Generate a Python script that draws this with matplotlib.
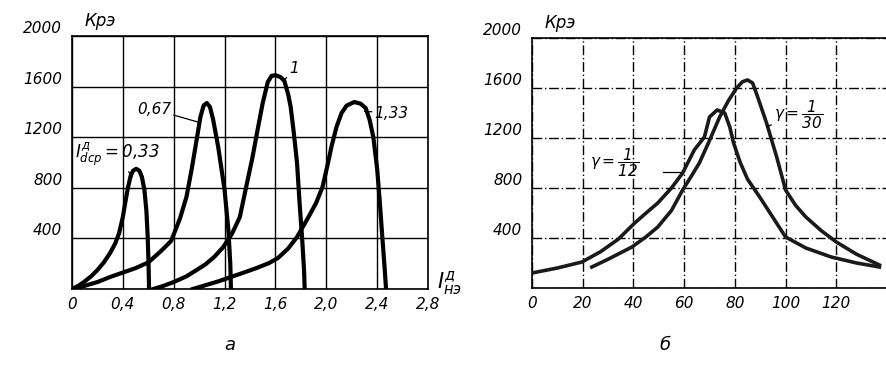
import numpy as np
import matplotlib.pyplot as plt

plt.rcParams['font.family'] = 'DejaVu Sans'
plt.rcParams['font.style'] = 'italic'
plt.rcParams['mathtext.fontset'] = 'custom'
plt.rcParams['mathtext.rm'] = 'DejaVu Sans:italic'
plt.rcParams['mathtext.it'] = 'DejaVu Sans:italic'

# --- данные, рисунок а: K_рэ от I_нэ при разных I_dср
c033_x = [0.00, 0.05, 0.10, 0.15, 0.20, 0.25, 0.30, 0.34, 0.37, 0.40, 0.42, 0.44, 0.46, 0.48,
          0.505, 0.53, 0.55, 0.57, 0.585, 0.595, 0.602, 0.606]
c033_y = [0, 25, 60, 100, 150, 210, 285, 360, 440, 570, 690, 800, 890, 935,
          950, 935, 885, 780, 620, 420, 200, 0]

c067_x = [0.00, 0.10, 0.20, 0.30, 0.40, 0.50, 0.60, 0.70, 0.78, 0.85, 0.90, 0.94, 0.98, 1.01,
          1.035, 1.06, 1.085, 1.11, 1.15, 1.18, 1.20, 1.23, 1.245, 1.25]
c067_y = [0, 25, 55, 95, 130, 165, 210, 300, 380, 560, 727, 940, 1178, 1360,
          1450, 1470, 1440, 1340, 1122, 920, 783, 466, 200, 0]

c100_x = [0.64, 0.72, 0.80, 0.90, 0.98, 1.05, 1.12, 1.19, 1.26, 1.32, 1.36, 1.42, 1.46, 1.50,
          1.54, 1.57, 1.60, 1.64, 1.67, 1.70, 1.72, 1.745, 1.77, 1.79, 1.81, 1.825, 1.83]
c100_y = [0, 25, 55, 100, 150, 195, 255, 332, 440, 569, 760, 1043, 1260, 1470,
          1636, 1685, 1690, 1675, 1645, 1540, 1439, 1230, 996, 680, 400, 150, 0]

c133_x = [0.95, 1.05, 1.15, 1.25, 1.34, 1.45, 1.55, 1.62, 1.70, 1.77, 1.86, 1.92, 1.97, 2.01,
          2.04, 2.08, 2.12, 2.16, 2.22, 2.27, 2.31, 2.34, 2.37, 2.40, 2.42, 2.44, 2.46, 2.47]
c133_y = [0, 30, 60, 95, 126, 165, 205, 245, 320, 411, 569, 680, 806, 980,
          1122, 1280, 1391, 1450, 1478, 1465, 1430, 1340, 1201, 950, 700, 420, 150, 0]

# --- данные, рисунок б: при разных gamma
g12_x = [0, 10, 19.7, 27, 34, 40.5, 45, 49.6, 55, 59.4, 64, 68, 70, 73, 76, 78, 79.5,
         82, 85, 89.8, 94.9, 100, 108, 118, 128, 137]
g12_y = [120, 160, 208, 290, 390, 520, 600, 680, 800, 920, 1104, 1208, 1368, 1424, 1400, 1288, 1160,
         1010, 870, 728, 568, 408, 320, 248, 200, 168]

g30_x = [23.6, 30, 39.4, 45, 49.6, 55, 59.4, 63, 66, 70, 74, 77.5, 80.7, 83, 85, 87, 89,
         92.5, 96.5, 100, 104, 108, 114, 120, 128, 137]
g30_y = [168, 230, 328, 410, 488, 620, 784, 900, 1000, 1180, 1368, 1500, 1600, 1650, 1664, 1640, 1528,
         1320, 1048, 784, 660, 568, 460, 368, 270, 184]

xt_a = [0, 0.4, 0.8, 1.2, 1.6, 2.0, 2.4, 2.8]
xl_a = ['0', '0,4', '0,8', '1,2', '1,6', '2,0', '2,4', '2,8']
xt_b = [0, 20, 40, 60, 80, 100, 120, 140]
xl_b = ['0', '20', '40', '60', '80', '100', '120', '']
yt = [0, 400, 800, 1200, 1600, 2000]
yl = ['', '400', '800', '1200', '1600', '2000']

fig = plt.figure(figsize=(8.87, 3.69), dpi=100)
ax1 = fig.add_axes([72/887, 80/369, 356/887, 253/369])
ax2 = fig.add_axes([532/887, 81/369, 355/887, 250/369])

# общие настройки осей
for ax, xt, xl in [(ax1, xt_a, xl_a), (ax2, xt_b, xl_b)]:
    ax.set_xlim(xt[0], xt[-1])
    ax.set_ylim(0, 2000)
    ax.set_xticks(xt)
    ax.set_xticklabels(xl, fontsize=11)
    ax.set_yticks(yt)
    ax.set_yticklabels(yl, fontsize=11)
    for t in ax.get_yticklabels():
        t.set_verticalalignment('bottom')
    ax.tick_params(length=0, pad=7)
    ax.tick_params(axis='x', pad=6)
    for s in ax.spines.values():
        s.set_color('black')
        s.set_linewidth(1.2)
    ax.text(0.035, 1.025, 'Крэ', transform=ax.transAxes, fontsize=12, va='bottom')

ax1.grid(True, color='black', linewidth=1.0)
ax2.grid(True, color='black', linewidth=1.0, linestyle=(0, (7, 2, 1, 2)))
ax2.spines['right'].set_visible(False)

# кривые
for xs, ys in [(c033_x, c033_y), (c067_x, c067_y), (c100_x, c100_y), (c133_x, c133_y)]:
    ax1.plot(xs, ys, color='black', linewidth=3, solid_joinstyle='round', zorder=3)
ax2.plot(g12_x, g12_y, color='#1a1a1a', linewidth=2.6, solid_joinstyle='round', zorder=3)
ax2.plot(g30_x, g30_y, color='#1a1a1a', linewidth=2.6, solid_joinstyle='round', zorder=3)

# подписи кривых
lp = dict(arrowstyle='-', color='black', linewidth=0.9, shrinkA=0, shrinkB=0)
ax1.annotate(r'$I^{д}_{dср}=0{,}33$', xy=(0.474, 885), xytext=(0.02, 1060),
             fontsize=12, va='center', arrowprops=lp)
ax1.annotate('0,67', xy=(0.99, 1320), xytext=(0.51, 1420), fontsize=11, va='center',
             arrowprops=lp)
ax1.annotate('1', xy=(1.67, 1652), xytext=(1.71, 1740), fontsize=11, va='center',
             arrowprops=lp)
ax1.annotate('1,33', xy=(2.30, 1405), xytext=(2.38, 1390), fontsize=11, va='center',
             arrowprops=lp)
ax1.text(1.025, -0.03, r'$I^{д}_{нэ}$', transform=ax1.transAxes, fontsize=15, va='bottom')

ax2.text(23, 1000, r'$\gamma=\dfrac{1}{12}$', fontsize=11, va='center')
ax2.plot([51.6, 59.4], [928, 928], color='black', linewidth=0.9)
ax2.annotate(r'$\gamma=\dfrac{1}{30}$', xy=(92.5, 1290), xytext=(95.5, 1390), fontsize=11,
             va='center', arrowprops=lp)

fig.text(230/887, 1 - 345/369, 'а', fontsize=13, ha='center', va='center')
fig.text(665/887, 1 - 345/369, 'б', fontsize=13, ha='center', va='center')

fig.savefig('out.png', dpi=100)
